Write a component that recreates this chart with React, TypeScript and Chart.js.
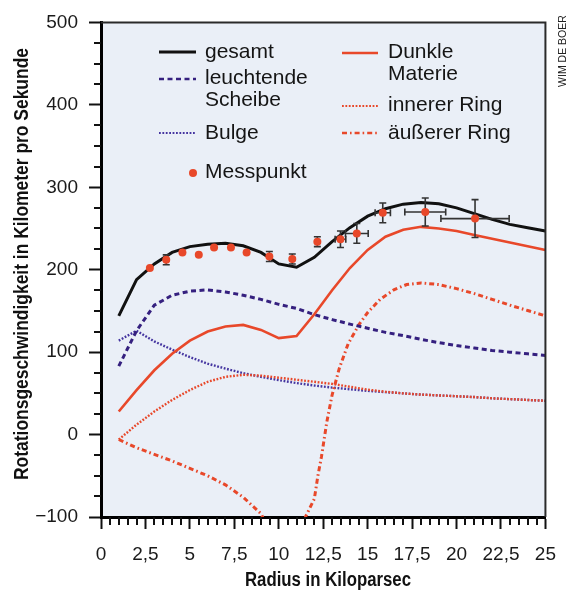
import React, { useEffect, useRef } from 'react';
import { Chart, registerables } from 'chart.js';

Chart.register(...registerables);

// ---------- data ----------
const radius = [1, 2, 3, 4, 5, 6, 7, 8, 9, 10, 11, 12, 13, 14, 15, 16, 17, 18, 19, 20, 21, 22, 23, 24, 25];
const gesamt = [144, 188, 207, 221, 228, 231, 232, 229, 221, 207, 203, 215, 234, 251, 265, 274, 279.5, 281.5, 280, 275, 268, 261, 255, 251, 247];
const leuchtendeScheibe = [83, 126, 157, 169, 174, 175.5, 173, 169, 164, 158, 153, 145.5, 139.5, 134, 129, 124, 120, 115.5, 111.5, 108, 105, 102, 100, 98, 96];
const bulge = [114, 126, 113, 103, 94, 86, 80, 74.5, 70, 66, 62.5, 59.5, 57, 55, 53, 51.5, 50, 48.5, 47.5, 46.5, 45.5, 44, 43, 42, 41];
const dunkleMaterie = [28, 54, 78, 98, 114, 125, 131, 133, 127, 117, 119.5, 146, 175, 202, 224, 240, 248.5, 252, 250, 247, 242, 237.5, 233, 228.5, 224];
const innererRing = [-6, 12, 28, 42, 54, 64, 70, 72.5, 71.5, 69, 66.5, 64, 61.5, 58, 54.5, 52, 50, 48.5, 47.5, 46.5, 45.5, 44, 43, 42, 41];
const aeussererRadius = [1, 2, 3, 4, 5, 6, 7, 8, 9, 10, 11, 11.5, 12, 12.2, 12.4, 12.7, 13, 13.4, 13.9, 14.5, 15, 15.7, 16.5, 17.2, 18, 19, 20, 21, 22, 23, 24, 25];
const aeussererRing = [-6, -16, -24, -32, -41, -50, -61, -76, -96, -140, -140, -100, -78, -50, -27, 15, 48, 80, 110, 133, 148, 164, 176, 182, 184, 182, 177, 171, 164, 157, 150.5, 144];

const messRadius = [2.75, 3.67, 4.58, 5.5, 6.36, 7.31, 8.19, 9.47, 10.76, 12.17, 13.47, 14.39, 15.85, 18.24, 21.04];
const messWert = [202, 212, 221, 218, 227, 227, 221, 216, 213, 234, 237, 244, 269, 270, 262];
const messFehlerWert = [0, 6, 0, 0, 0, 0, 0, 6, 6, 6, 10, 12, 12, 17, 23];
const messFehlerRadius = [0, 0, 0, 0, 0, 0, 0, 0, 0, 0, 0.3, 0.64, 0.43, 1.15, 1.92];

const xTickLabels = ['0', '2,5', '5', '7,5', '10', '12,5', '15', '17,5', '20', '22,5', '25'];
const yTickLabels = ['\u2212100', '0', '100', '200', '300', '400', '500'];

// ---------- styles ----------
const RED = '#e8482a';
const INDIGO = '#35207f';
const INDIGO_LIGHT = '#4535a0';
const BG = '#eaeff7';
const SANS = '"Liberation Sans", Arial, Helvetica, sans-serif';

type St = { color: string; width: number; dash: number[] };
const stGesamt: St = { color: '#111111', width: 3, dash: [] };
const stScheibe: St = { color: INDIGO, width: 3, dash: [5, 3.5] };
const stBulge: St = { color: INDIGO_LIGHT, width: 2.4, dash: [1.8, 1.6] };
const stDunkel: St = { color: RED, width: 2.6, dash: [] };
const stInner: St = { color: RED, width: 2.4, dash: [1.8, 1.6] };
const stAeusser: St = { color: RED, width: 3, dash: [5, 3, 1.6, 3] };

function lineDs(label: string, xs: number[], ys: number[], st: St, order: number) {
  return {
    type: 'scatter' as const,
    label,
    data: xs.map((x, i) => ({ x, y: ys[i] })),
    showLine: true,
    borderColor: st.color,
    backgroundColor: st.color,
    borderWidth: st.width,
    borderDash: st.dash,
    pointRadius: 0,
    pointHoverRadius: 0,
    tension: 0,
    fill: false,
    order,
  };
}

function strokeSeg(ctx: CanvasRenderingContext2D, x1: number, y1: number, x2: number, y2: number, st: St, w?: number) {
  ctx.save();
  ctx.strokeStyle = st.color;
  ctx.lineWidth = w ?? st.width;
  ctx.setLineDash(st.dash);
  ctx.beginPath();
  ctx.moveTo(x1, y1);
  ctx.lineTo(x2, y2);
  ctx.stroke();
  ctx.restore();
}

// draw text horizontally compressed to a target width (condensed look)
function fillFit(ctx: CanvasRenderingContext2D, text: string, x: number, y: number, targetW: number) {
  const w = ctx.measureText(text).width;
  ctx.save();
  ctx.translate(x, y);
  ctx.scale(targetW / w, 1);
  ctx.fillText(text, 0, 0);
  ctx.restore();
}

const decorPlugin = {
  id: 'decor',
  beforeDraw(chart: any) {
    const { ctx, chartArea: a } = chart;
    ctx.save();
    ctx.fillStyle = BG;
    ctx.fillRect(a.left, a.top, a.right - a.left, a.bottom - a.top);
    ctx.restore();
  },
  beforeDatasetDraw(chart: any, args: any) {
    const ds = chart.data.datasets[args.index];
    if (ds.label !== 'Messpunkt') return;
    const { ctx } = chart;
    const xs = chart.scales.x;
    const ys = chart.scales.y;
    ctx.save();
    ctx.strokeStyle = '#333333';
    ctx.lineWidth = 1.6;
    const cap = 3.5;
    messRadius.forEach((r, i) => {
      const px = xs.getPixelForValue(r);
      const py = ys.getPixelForValue(messWert[i]);
      const ev = messFehlerWert[i];
      if (ev > 0) {
        const y1 = ys.getPixelForValue(messWert[i] + ev);
        const y2 = ys.getPixelForValue(messWert[i] - ev);
        ctx.beginPath();
        ctx.moveTo(px, y1); ctx.lineTo(px, y2);
        ctx.moveTo(px - cap, y1); ctx.lineTo(px + cap, y1);
        ctx.moveTo(px - cap, y2); ctx.lineTo(px + cap, y2);
        ctx.stroke();
      }
      const er = messFehlerRadius[i];
      if (er > 0) {
        const x1 = xs.getPixelForValue(r - er);
        const x2 = xs.getPixelForValue(r + er);
        ctx.beginPath();
        ctx.moveTo(x1, py); ctx.lineTo(x2, py);
        ctx.moveTo(x1, py - cap); ctx.lineTo(x1, py + cap);
        ctx.moveTo(x2, py - cap); ctx.lineTo(x2, py + cap);
        ctx.stroke();
      }
    });
    ctx.restore();
  },
  afterDraw(chart: any) {
    const { ctx, chartArea: a } = chart;
    const xs = chart.scales.x;
    const ys = chart.scales.y;
    ctx.save();
    // top / right frame
    ctx.strokeStyle = '#2a2a2a';
    ctx.lineWidth = 2;
    ctx.beginPath();
    ctx.moveTo(a.left, a.top);
    ctx.lineTo(a.right, a.top);
    ctx.lineTo(a.right, a.bottom);
    ctx.stroke();
    // minor ticks
    ctx.strokeStyle = '#111111';
    ctx.lineWidth = 2;
    ctx.beginPath();
    for (let k = 0; k <= 50; k++) {
      if (k % 5 === 0) continue;
      const px = Math.round(xs.getPixelForValue(k * 0.5));
      ctx.moveTo(px, a.bottom);
      ctx.lineTo(px, a.bottom + 8);
    }
    for (let k = 0; k <= 24; k++) {
      if (k % 4 === 0) continue;
      const py = Math.round(ys.getPixelForValue(-100 + k * 25));
      ctx.moveTo(a.left - 7, py);
      ctx.lineTo(a.left, py);
    }
    ctx.stroke();

    // legend
    ctx.fillStyle = '#151515';
    ctx.font = `21px ${SANS}`;
    ctx.textBaseline = 'middle';
    ctx.textAlign = 'left';
    const c1a = 159, c1b = 196, t1 = 205;
    const c2a = 342, c2b = 378, t2 = 388;
    strokeSeg(ctx, c1a, 52, c1b, 52, stGesamt);
    ctx.fillText('gesamt', t1, 52);
    strokeSeg(ctx, c1a, 79, c1b, 79, stScheibe, 2.4);
    ctx.fillText('leuchtende', t1, 78);
    ctx.fillText('Scheibe', t1, 100);
    strokeSeg(ctx, c1a, 133, c1b, 133, stBulge, 2);
    ctx.fillText('Bulge', t1, 133);
    ctx.fillStyle = RED;
    ctx.beginPath();
    ctx.arc(193, 173, 4, 0, Math.PI * 2);
    ctx.fill();
    ctx.fillStyle = '#151515';
    ctx.fillText('Messpunkt', t1, 172);
    strokeSeg(ctx, c2a, 53, c2b, 53, stDunkel);
    ctx.fillText('Dunkle', t2, 52);
    ctx.fillText('Materie', t2, 74);
    strokeSeg(ctx, c2a, 106, c2b, 106, stInner, 2);
    ctx.fillText('innerer Ring', t2, 105);
    strokeSeg(ctx, c2a, 133, c2b, 133, stAeusser, 2.4);
    ctx.fillText('äußerer Ring', t2, 133);

    // axis titles (condensed bold)
    ctx.fillStyle = '#111111';
    ctx.font = `bold 20px ${SANS}`;
    ctx.textAlign = 'center';
    fillFit(ctx, 'Radius in Kiloparsec', 328, 580, 166);
    ctx.save();
    ctx.translate(22, 264);
    ctx.rotate(-Math.PI / 2);
    fillFit(ctx, 'Rotationsgeschwindigkeit in Kilometer pro Sekunde', 0, 0, 432);
    ctx.restore();

    // credit
    ctx.save();
    ctx.font = `10.5px ${SANS}`;
    ctx.fillStyle = '#222222';
    ctx.translate(563, 51);
    ctx.rotate(-Math.PI / 2);
    ctx.fillText('WIM DE BOER', 0, 0);
    ctx.restore();

    ctx.restore();
  },
};

export default function App() {
  const ref = useRef<HTMLCanvasElement | null>(null);
  useEffect(() => {
    if (!ref.current) return;
    const tickFont = { family: SANS, size: 19 };
    const chart = new Chart(ref.current, {
      type: 'scatter',
      data: {
        datasets: [
          {
            type: 'scatter',
            label: 'Messpunkt',
            data: messRadius.map((x, i) => ({ x, y: messWert[i] })),
            pointRadius: 4,
            pointHoverRadius: 4,
            backgroundColor: RED,
            borderWidth: 0,
            showLine: false,
            order: -1,
          } as any,
          lineDs('gesamt', radius, gesamt, stGesamt, 0),
          lineDs('Dunkle Materie', radius, dunkleMaterie, stDunkel, 1),
          lineDs('leuchtende Scheibe', radius, leuchtendeScheibe, stScheibe, 2),
          lineDs('äußerer Ring', aeussererRadius, aeussererRing, stAeusser, 3),
          lineDs('innerer Ring', radius, innererRing, stInner, 4),
          lineDs('Bulge', radius, bulge, stBulge, 5),
        ],
      },
      options: {
        responsive: false,
        animation: false,
        events: [],
        layout: { padding: { top: 16, right: 15, left: 0, bottom: 0 } },
        plugins: { legend: { display: false }, tooltip: { enabled: false } },
        scales: {
          x: {
            type: 'linear',
            min: 0,
            max: 25,
            ticks: {
              stepSize: 2.5,
              autoSkip: false,
              maxRotation: 0,
              font: tickFont,
              color: '#1a1a1a',
              padding: 14,
              callback: (_v: any, i: number) => xTickLabels[i],
            },
            grid: { drawOnChartArea: false, drawTicks: true, tickLength: 12, tickWidth: 2, tickColor: '#111111' },
            border: { display: true, color: '#000000', width: 3 },
            afterFit: (s: any) => { s.height = 79; },
          },
          y: {
            type: 'linear',
            min: -100,
            max: 500,
            ticks: {
              stepSize: 100,
              autoSkip: false,
              font: tickFont,
              color: '#1a1a1a',
              padding: 11,
              callback: (_v: any, i: number) => yTickLabels[i],
            },
            grid: { drawOnChartArea: false, drawTicks: true, tickLength: 12, tickWidth: 2, tickColor: '#111111' },
            border: { display: true, color: '#000000', width: 3 },
            afterFit: (s: any) => { s.width = 101; },
          },
        },
      } as any,
      plugins: [decorPlugin],
    });
    return () => chart.destroy();
  }, []);
  return (
    <canvas
      ref={ref}
      width={570}
      height={596}
      style={{ display: 'block', position: 'absolute', left: 0, top: 0, background: '#ffffff' }}
    />
  );
}
